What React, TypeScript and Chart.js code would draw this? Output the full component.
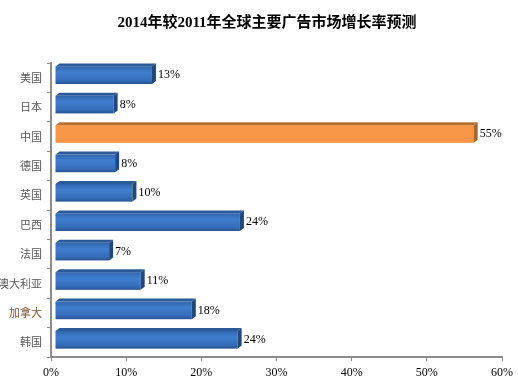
import React, { useEffect, useRef } from "react";
import { Chart, registerables } from "chart.js";

Chart.register(...registerables);

const TITLE = "2014年较2011年全球主要广告市场增长率预测";
const categories = ["美国", "日本", "中国", "德国", "英国", "巴西", "法国", "澳大利亚", "加拿大", "韩国"];
const growthValues = [12.9, 7.8, 55.7, 8.0, 10.3, 24.6, 7.2, 11.4, 18.2, 24.3];
const valueLabels = ["13%", "8%", "55%", "8%", "10%", "24%", "7%", "11%", "18%", "24%"];
const highlightIndex = 2;
const xTickMax = 60;
const xTickStep = 10;

const titlePlugin = {
  id: "titleText",
  afterDraw(chart: any) {
    const ctx = chart.ctx;
    ctx.save();
    ctx.fillStyle = "#000";
    ctx.font = "bold 15px 'Liberation Serif', 'Noto Sans CJK SC', serif";
    ctx.textAlign = "center";
    ctx.textBaseline = "middle";
    ctx.fillText(TITLE, 267, 23);
    ctx.restore();
  },
};

const bars3d = {
  id: "bars3d",
  afterDatasetsDraw(chart: any) {
    const ctx = chart.ctx;
    const meta = chart.getDatasetMeta(0);
    const ox = 4;
    const oy = -3;
    const shiftX = 4;
    const shiftY = -2.5;
    meta.data.forEach((el: any, i: number) => {
      const p = el.getProps(["x", "y", "base", "height"], true);
      const L = p.base + shiftX;
      const R = p.x + shiftX;
      const T = p.y - p.height / 2 + shiftY;
      const B = p.y + p.height / 2 + shiftY;
      const hi = i === highlightIndex;
      ctx.save();
      if (hi) {
        ctx.fillStyle = "#f79646";
      } else {
        const g = ctx.createLinearGradient(0, T, 0, B);
        g.addColorStop(0, "#3166ad");
        g.addColorStop(0.35, "#3f7fcf");
        g.addColorStop(0.8, "#356cb8");
        g.addColorStop(1, "#285393");
        ctx.fillStyle = g;
      }
      ctx.fillRect(L, T, R - L, B - T);
      ctx.beginPath();
      ctx.moveTo(L, T);
      ctx.lineTo(L + ox, T + oy);
      ctx.lineTo(R + ox, T + oy);
      ctx.lineTo(R, T);
      ctx.closePath();
      ctx.fillStyle = hi ? "#b87035" : "#2c5a98";
      ctx.fill();
      ctx.beginPath();
      ctx.moveTo(R, T);
      ctx.lineTo(R + ox, T + oy);
      ctx.lineTo(R + ox, B + oy);
      ctx.lineTo(R, B);
      ctx.closePath();
      ctx.fillStyle = hi ? "#a9652f" : "#22477c";
      ctx.fill();
      ctx.fillStyle = "#000";
      ctx.font = "12px 'Liberation Serif', serif";
      ctx.textAlign = "left";
      ctx.textBaseline = "middle";
      ctx.fillText(valueLabels[i], R + ox + 2, (T + B) / 2);
      ctx.restore();
    });
  },
};

export default function App() {
  const ref = useRef<HTMLCanvasElement>(null);
  useEffect(() => {
    if (!ref.current) return;
    const chart = new Chart(ref.current, {
      type: "bar",
      data: {
        labels: categories,
        datasets: [
          {
            data: growthValues,
            backgroundColor: "rgba(0,0,0,0)",
            borderWidth: 0,
            barPercentage: 0.6,
            categoryPercentage: 1,
          },
        ],
      },
      options: {
        indexAxis: "y",
        responsive: false,
        animation: false,
        layout: { padding: { left: 0, right: 15, top: 63, bottom: 0 } },
        plugins: {
          legend: { display: false },
          tooltip: { enabled: false },
          title: { display: false },
        },
        scales: {
          x: {
            type: "linear",
            min: 0,
            max: xTickMax,
            afterFit: (s: any) => {
              s.height = 28;
            },
            ticks: {
              stepSize: xTickStep,
              padding: 5,
              color: "#000",
              font: { size: 12, family: "'Liberation Serif', serif" },
              callback: (v: any) => v + "%",
            },
            grid: { drawOnChartArea: false, drawTicks: true, tickLength: 4, color: "#8c8c8c" },
            border: { display: true, color: "#8c8c8c", width: 2 },
          },
          y: {
            type: "category",
            afterFit: (s: any) => {
              s.width = 51;
            },
            ticks: {
              padding: 5,
              autoSkip: false,
              color: (c: any) => (c.index === 8 ? "#7a5230" : "#595959"),
              font: { size: 11, family: "'Noto Sans CJK SC', sans-serif" },
            },
            grid: { drawOnChartArea: false, drawTicks: true, tickLength: 4, color: "#8c8c8c", offset: true },
            border: { display: true, color: "#8c8c8c", width: 2 },
          },
        },
      },
      plugins: [bars3d, titlePlugin],
    } as any);
    return () => chart.destroy();
  }, []);
  return (
    <div style={{ position: "fixed", left: 0, top: 0, width: 518, height: 385, background: "#fff" }}>
      <canvas ref={ref} width={518} height={385} style={{ width: 518, height: 385 }} />
    </div>
  );
}
